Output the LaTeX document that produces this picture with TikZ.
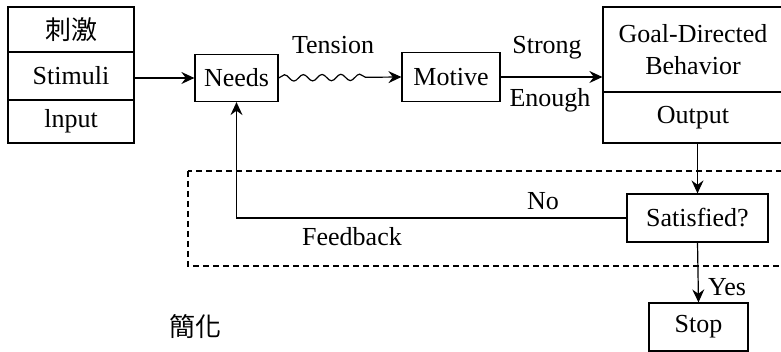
\documentclass[tikz,border=0pt]{standalone}
\usepackage{fontspec}
\setmainfont{Liberation Serif}
\newfontfamily\cjk{Noto Sans CJK TC}
\usetikzlibrary{arrows.meta,decorations.pathmorphing}
\begin{document}
\begin{tikzpicture}[x=0.5pt,y=-0.5pt,
  font=\fontsize{13pt}{16pt}\selectfont,
  cell/.style={draw,line width=0.6pt,inner sep=0pt,align=center},
  lab/.style={inner sep=0pt},
  conn/.style={line width=0.6pt,-{Stealth[length=6.5pt,width=6pt,inset=2.2pt]}},
  plain/.style={line width=0.6pt}]
\useasboundingbox (0,0) rectangle (781,352);
\clip (0,0) rectangle (781,352);
% left stack
\node[cell,minimum width=63pt,minimum height=22.5pt] (cj) at (71,29.5) {\cjk 刺激};
\node[cell,minimum width=63pt,minimum height=24pt] (stim) at (71,76) {Stimuli};
\node[cell,minimum width=63pt,minimum height=21.5pt] (inp) at (71,121.5) {lnput};
% main row
\node[cell,minimum width=41.5pt,minimum height=23.5pt] (needs) at (236.5,78) {Needs};
\node[cell,minimum width=49pt,minimum height=24.5pt] (motive) at (451,77) {Motive};
\node[cell,minimum width=90pt,minimum height=42.5pt] (goal) at (693,49.5) {Goal-Directed\\Behavior};
\node[cell,minimum width=90pt,minimum height=25.5pt] (out) at (693,117.5) {Output};
\node[cell,minimum width=70.5pt,minimum height=24pt] (sat) at (697.5,218) {Satisfied?};
\node[cell,minimum width=49.5pt,minimum height=24pt] (stop) at (698.5,327) {Stop};
% dashed region
\draw[line width=0.6pt,dash pattern=on 3pt off 2pt] (188,171) rectangle (800,266);
% connectors
\draw[conn] (stim.east |- needs.west) -- (needs.west);
\draw[conn,decorate,decoration={snake,amplitude=1.6pt,segment length=9.4pt,post length=15pt}] (needs.east) -- (motive.west);
\draw[conn] (motive.east) -- (motive.east -| goal.west);
\draw[conn] (sat.north |- out.south) -- (sat.north);
\draw[conn] (sat.west) -- (needs.south |- sat.west) -- (needs.south);
\draw[conn] (sat.south) -- (stop.north);
% labels
\node[lab] (tension) at (333,45) {Tension};
\node[lab] (strong) at (547,48) {Strong};
\node[lab] (enough) at (550,100) {Enough};
\node[lab] (no) at (543,201) {No};
\node[lab] (fb) at (352,237) {Feedback};
\node[lab] (yes) at (727,287) {Yes};
\node[lab] (jian) at (195,327) {\cjk 簡化};
\end{tikzpicture}
\end{document}
